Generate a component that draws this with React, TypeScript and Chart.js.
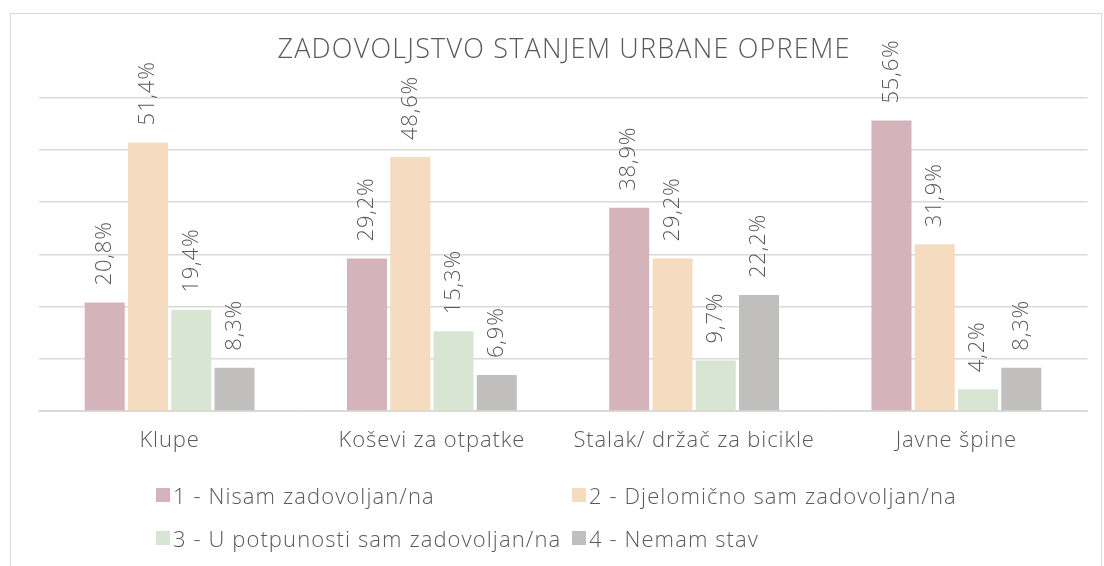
import React, { useEffect, useRef } from "react";
import { Chart, registerables } from "chart.js";

Chart.register(...registerables);

const title = "ZADOVOLJSTVO STANJEM URBANE OPREME";
const categories = ["Klupe", "Koševi za otpatke", "Stalak/ držač za bicikle", "Javne špine"];
const seriesNames = [
  "1 - Nisam zadovoljan/na",
  "2 - Djelomično sam zadovoljan/na",
  "3 - U potpunosti sam zadovoljan/na",
  "4 - Nemam stav",
];
const nisam = [20.8, 29.2, 38.9, 55.6];
const djelomicno = [51.4, 48.6, 29.2, 31.9];
const potpuno = [19.4, 15.3, 9.7, 4.2];
const nemam = [8.3, 6.9, 22.2, 8.3];
const colors = ["#d4b3bb", "#f5dcc0", "#d9e5d3", "#c0bfbd"];
const yMin = 0;
const yMax = 60;
const yStep = 10;

const FONT = '"Open Sans", sans-serif';
const TEXT = "#595959";

const spacingPlugin = {
  id: "spacing",
  beforeDraw(chart: any) {
    (chart.ctx as any).letterSpacing = "0.9px";
  },
};

const labelPlugin = {
  id: "vlabels",
  afterDatasetsDraw(chart: any) {
    const ctx = chart.ctx;
    ctx.save();
    (ctx as any).letterSpacing = "0.8px";
    ctx.font = `300 22px ${FONT}`;
    ctx.fillStyle = TEXT;
    ctx.textAlign = "left";
    ctx.textBaseline = "middle";
    chart.data.datasets.forEach((ds: any, i: number) => {
      const meta = chart.getDatasetMeta(i);
      meta.data.forEach((bar: any, j: number) => {
        const v = ds.data[j] as number;
        const txt = v.toFixed(1).replace(".", ",") + "%";
        ctx.save();
        ctx.translate(bar.x, bar.y);
        ctx.rotate(-Math.PI / 2);
        ctx.fillText(txt, 17, 0);
        ctx.restore();
      });
    });
    ctx.restore();
  },
};

export default function App() {
  const ref = useRef<HTMLCanvasElement | null>(null);

  useEffect(() => {
    if (!ref.current) return;
    const series = [nisam, djelomicno, potpuno, nemam];
    const chart = new Chart(ref.current, {
      type: "bar",
      data: {
        labels: categories,
        datasets: series.map((d, i) => ({
          label: seriesNames[i],
          data: d,
          backgroundColor: colors[i],
          borderWidth: 0,
          categoryPercentage: 0.66,
          barPercentage: 0.925,
        })),
      },
      options: {
        animation: false,
        responsive: false,
        maintainAspectRatio: false,
        layout: { padding: { left: 38.5, right: 16.5, top: 97.5, bottom: 96.5 } },
        plugins: {
          legend: { display: false },
          title: { display: false },
          tooltip: { enabled: false },
        },
        scales: {
          x: {
            grid: { display: false, drawTicks: false },
            border: { display: true, color: "#d9d9d9", width: 1 },
            ticks: {
              color: TEXT,
              font: { family: FONT, size: 22, weight: "300" as any },
              padding: 16,
              maxRotation: 0,
              autoSkip: false,
            },
          },
          y: {
            min: yMin,
            max: yMax,
            ticks: { display: false, stepSize: yStep },
            grid: { color: "#d9d9d9", lineWidth: 1.5, drawTicks: false },
            border: { display: false },
          },
        },
      },
      plugins: [spacingPlugin, labelPlugin],
    });
    return () => chart.destroy();
  }, []);

  const legendPos = [
    { x: 156, y: 495 },
    { x: 572, y: 495 },
    { x: 156, y: 537.5 },
    { x: 572, y: 537.5 },
  ];

  return (
    <div
      style={{
        position: "fixed",
        left: 0,
        top: 0,
        width: 1104,
        height: 566,
        overflow: "hidden",
        background: "#fff",
        fontFamily: FONT,
      }}
    >
      <div
        style={{
          position: "absolute",
          left: 10,
          top: 13,
          width: 1092,
          height: 600,
          border: "1px solid #d9d9d9",
          boxSizing: "border-box",
        }}
      />
      <canvas ref={ref} width={1104} height={566} style={{ position: "absolute", left: 0, top: 0 }} />
      <div
        style={{
          position: "absolute",
          left: 564,
          top: 33,
          transform: "translateX(-50%)",
          whiteSpace: "nowrap",
          fontSize: 27,
          letterSpacing: "1.2px",
          lineHeight: "30px",
          fontWeight: 300,
          color: TEXT,
        }}
      >
        {title}
      </div>
      {seriesNames.map((name, i) => (
        <div
          key={name}
          style={{
            position: "absolute",
            left: legendPos[i].x,
            top: legendPos[i].y - 15,
            height: 30,
            display: "flex",
            alignItems: "center",
            whiteSpace: "nowrap",
            fontSize: 22,
            letterSpacing: "1.1px",
            fontWeight: 300,
            color: TEXT,
          }}
        >
          <span style={{ display: "inline-block", width: 14, height: 14, background: colors[i], marginRight: 3 }} />
          <span>{name}</span>
        </div>
      ))}
    </div>
  );
}
